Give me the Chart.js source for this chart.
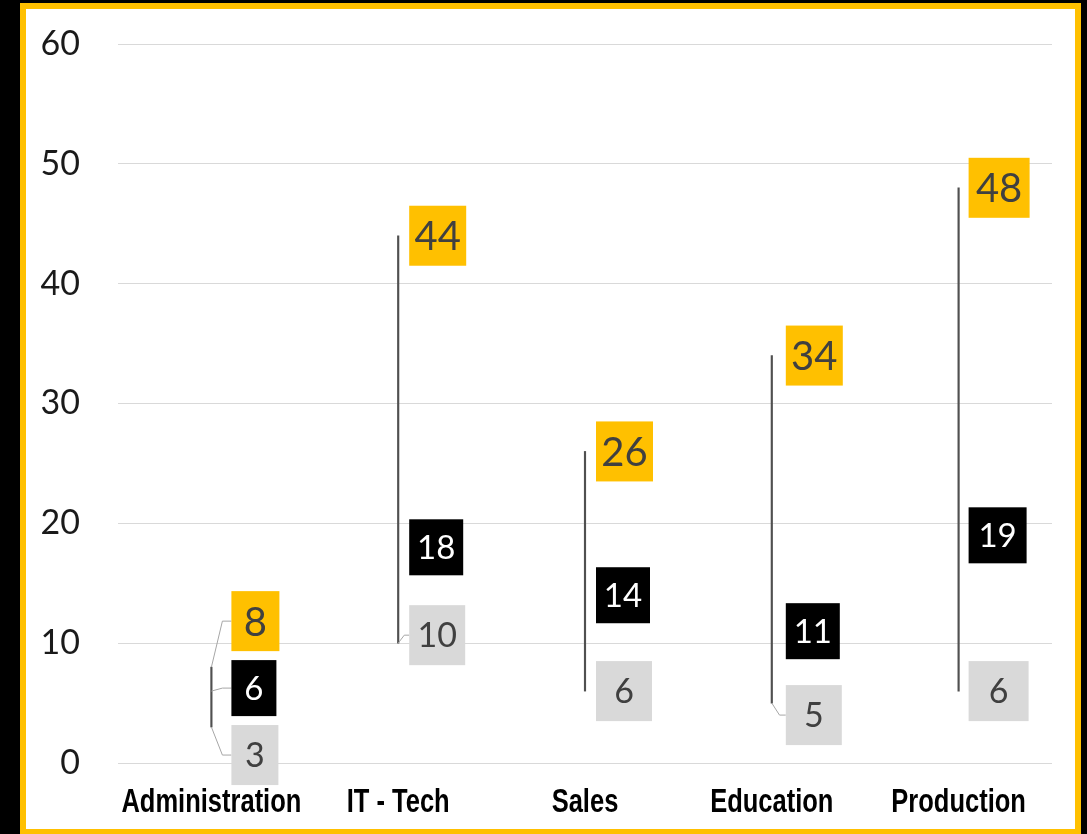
<!DOCTYPE html>
<html>
<head>
<meta charset="utf-8">
<script src="https://cdn.jsdelivr.net/npm/chart.js@4.4.1/dist/chart.umd.min.js"></script>
<style>
    html, body { margin: 0; padding: 0; background: #000; width: 1087px; height: 834px; overflow: hidden; }
    #frame { position: absolute; left: 20px; top: 3px; width: 1061px; height: 832px; box-sizing: border-box;
             border: 6px solid #FFC000; background: #fff; }
    #chart { position: absolute; left: 0; top: 0; }
</style>
</head>
<body>
<div id="frame"><canvas id="chart" width="1049" height="820"></canvas></div>
<script>
// --- DADOS ---
const categories = ['Administration', 'IT - Tech', 'Sales', 'Education', 'Production'];
const highValues = [8, 44, 26, 34, 48];
const midValues = [6, 18, 14, 11, 19];
const lowValues = [3, 10, 6, 5, 6];
const yTicks = [0, 10, 20, 30, 40, 50, 60];

// --- ESTILO DOS RÓTULOS (caixas coloridas ao lado da linha) ---
const labelStyles = [
    { bg: '#FFC000', fg: '#404040', size: 40, w: 57, h: 60 },  // alto
    { bg: '#000000', fg: '#ffffff', size: 33, w: 54, h: 56 },  // médio
    { bg: '#D9D9D9', fg: '#404040', size: 34, w: 56, h: 60 }   // baixo
];
// deslocamento vertical (px) de cada caixa em relação ao ponto, quando o Excel afastou o rótulo
const labelNudge = [
    [-46, 0, 0, 0, 0],
    [-3, 0, 0, 0, 0],
    [28, -8, 0, 12, 0]
];
const labelGap = [20, 11, 11, 14, 10];   // distância da linha até a caixa
const boxWidthAdj = [-9, 0, 0, 0, 4];    // caixas um pouco mais estreitas/largas

const boxLabels = {
    id: 'boxLabels',
    afterDatasetsDraw(chart) {
        const ctx = chart.ctx;
        [1, 2, 3].forEach((dsIndex, s) => {
            const meta = chart.getDatasetMeta(dsIndex);
            const st = labelStyles[s];
            meta.data.forEach((pt, i) => {
                const value = chart.data.datasets[dsIndex].data[i];
                const cy = pt.y + labelNudge[s][i];
                const left = pt.x + labelGap[i];
                const w = st.w + boxWidthAdj[i];
                ctx.save();
                // linha de chamada quando a caixa foi deslocada
                if (labelNudge[s][i] !== 0) {
                    ctx.strokeStyle = '#a6a6a6';
                    ctx.lineWidth = 1;
                    ctx.beginPath();
                    ctx.moveTo(pt.x, pt.y);
                    ctx.lineTo(pt.x + labelGap[i] * 0.55, cy);
                    ctx.lineTo(left, cy);
                    ctx.stroke();
                }
                ctx.fillStyle = st.bg;
                ctx.fillRect(left, cy - st.h / 2, w, st.h);
                ctx.fillStyle = st.fg;
                ctx.font = `${st.size}px Lato, 'Open Sans', sans-serif`;
                ctx.textAlign = 'center';
                ctx.textBaseline = 'alphabetic';
                ctx.fillText(String(value), left + w / 2, cy + st.size * 0.36);
                ctx.restore();
            });
        });
    }
};

// rótulos das categorias em fonte estreita (Arial Narrow não existe aqui, então comprime a Liberation Sans)
const narrowCategoryLabels = {
    id: 'narrowCategoryLabels',
    afterDraw(chart) {
        const ctx = chart.ctx;
        const xScale = chart.scales.x;
        ctx.save();
        ctx.font = "bold 34px 'Liberation Sans', Arial, sans-serif";
        ctx.fillStyle = '#000';
        ctx.textAlign = 'center';
        ctx.textBaseline = 'alphabetic';
        categories.forEach((cat, i) => {
            const x = xScale.getPixelForValue(i);
            ctx.save();
            ctx.translate(x, chart.chartArea.bottom + 49);
            ctx.scale(0.75, 1);
            ctx.fillText(cat, 0, 0);
            ctx.restore();
        });
        ctx.restore();
    }
};

const ctx = document.getElementById('chart').getContext('2d');
new Chart(ctx, {
    type: 'bar',
    data: {
        labels: categories,
        datasets: [
            {
                label: 'High-Low',
                data: categories.map((_, i) => [lowValues[i], highValues[i]]),
                backgroundColor: '#505050',
                barThickness: 1.5,
                borderSkipped: false
            },
            { type: 'line', label: 'High', data: highValues, showLine: false, pointRadius: 0 },
            { type: 'line', label: 'Mid', data: midValues, showLine: false, pointRadius: 0 },
            { type: 'line', label: 'Low', data: lowValues, showLine: false, pointRadius: 0 }
        ]
    },
    options: {
        responsive: false,
        animation: false,
        layout: { autoPadding: false, padding: { top: 35, right: 23, left: 0, bottom: 0 } },
        plugins: {
            legend: { display: false },
            tooltip: { enabled: false }
        },
        scales: {
            x: {
                grid: { display: false, drawTicks: false },
                border: { display: false },
                ticks: { display: false },
                afterFit: (scale) => { scale.height = 66; }
            },
            y: {
                min: yTicks[0],
                max: yTicks[yTicks.length - 1],
                afterBuildTicks: (scale) => { scale.ticks = yTicks.map(v => ({ value: v })); },
                grid: { color: '#d9d9d9', lineWidth: 1, drawTicks: false },
                border: { display: false },
                ticks: {
                    color: '#1a1a1a',
                    padding: 38,
                    font: { family: "Lato, 'Open Sans', sans-serif", size: 34 }
                },
                afterFit: (scale) => {
                    scale.width = 92;
                    scale.paddingTop = 0;
                    scale.paddingBottom = 0;
                }
            }
        }
    },
    plugins: [boxLabels, narrowCategoryLabels]
});
</script>
</body>
</html>
